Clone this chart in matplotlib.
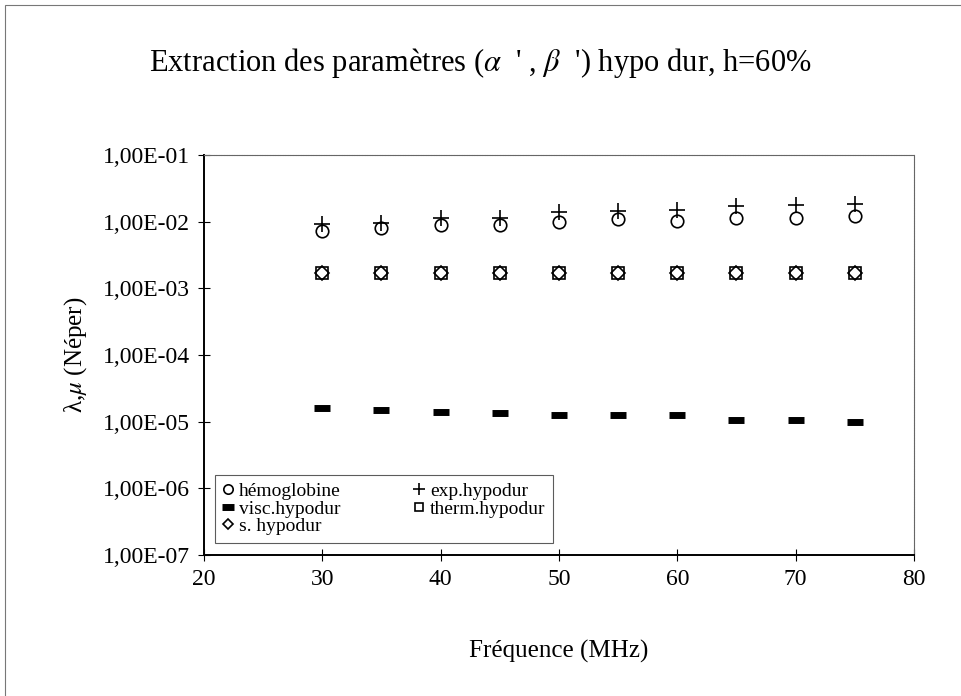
import matplotlib
matplotlib.use('Agg')
import matplotlib.pyplot as plt
from matplotlib.ticker import FixedLocator, FuncFormatter, NullLocator
from matplotlib.patches import Rectangle

plt.rcParams['font.family'] = ['Liberation Serif', 'DejaVu Serif']
plt.rcParams['mathtext.fontset'] = 'stix'

freq = [30, 35, 40, 45, 50, 55, 60, 65, 70, 75]
hemoglobine = [7.3e-3, 8.0e-3, 8.8e-3, 9.0e-3, 1.0e-2, 1.1e-2, 1.03e-2, 1.12e-2, 1.12e-2, 1.23e-2]
exp_hypodur = [9.2e-3, 9.5e-3, 1.12e-2, 1.12e-2, 1.38e-2, 1.46e-2, 1.51e-2, 1.70e-2, 1.79e-2, 1.84e-2]
visc_hypodur = [1.6e-5, 1.51e-5, 1.41e-5, 1.33e-5, 1.26e-5, 1.26e-5, 1.25e-5, 1.06e-5, 1.06e-5, 1.0e-5]
therm_hypodur = [1.7e-3] * 10
s_hypodur = [1.7e-3] * 10

yticks = [1e-1, 1e-2, 1e-3, 1e-4, 1e-5, 1e-6, 1e-7]
xticks = [20, 30, 40, 50, 60, 70, 80]

fig = plt.figure(figsize=(9.61, 6.96), dpi=100)
ax = fig.add_axes([0.2123, 0.2026, 0.951 - 0.2123, 0.7773 - 0.2026])

# outer frame of the chart area
fig.patches.append(Rectangle((0.005, -0.01), 1.2, 1.003, transform=fig.transFigure,
                             fill=False, edgecolor='#777777', linewidth=0.8))

ax.plot(freq, hemoglobine, linestyle='none', marker='o', markersize=9,
        markerfacecolor='none', markeredgecolor='black', markeredgewidth=1.2, label='hémoglobine')
ax.plot(freq, visc_hypodur, linestyle='none', marker='_', markersize=12,
        markeredgecolor='black', markeredgewidth=5, label='visc.hypodur')
ax.plot(freq, s_hypodur, linestyle='none', marker='D', markersize=7,
        markerfacecolor='none', markeredgecolor='black', markeredgewidth=1.2, label='s. hypodur')
ax.plot(freq, exp_hypodur, linestyle='none', marker='+', markersize=11,
        markeredgecolor='black', markeredgewidth=1.2, label='exp.hypodur')
ax.plot(freq, therm_hypodur, linestyle='none', marker='s', markersize=8,
        markerfacecolor='none', markeredgecolor='black', markeredgewidth=1.2, label='therm.hypodur')

ax.set_yscale('log')
ax.set_ylim(1e-7, 1e-1)
ax.set_xlim(20, 80)
ax.yaxis.set_major_locator(FixedLocator(yticks))
ax.yaxis.set_minor_locator(NullLocator())
ax.xaxis.set_major_locator(FixedLocator(xticks))
ax.yaxis.set_major_formatter(FuncFormatter(lambda v, p: ('%.2E' % v).replace('.', ',')))

ax.tick_params(axis='both', direction='inout', length=8, width=0.8, labelsize=17, pad=6)
for side in ['left', 'bottom']:
    ax.spines[side].set_linewidth(1.4)
for side in ['top', 'right']:
    ax.spines[side].set_linewidth(0.8)
    ax.spines[side].set_color('#666666')
    ax.spines[side].set_linestyle((0, (1.5, 0.8)))

ax.set_xlabel('Fréquence (MHz)', fontsize=18, labelpad=36)
ax.set_ylabel('λ,$\\mathit{\\mu}$ (Néper)', fontsize=18, labelpad=10)
fig.text(0.5, 0.91, "Extraction des paramètres ($\\alpha$  ' , $\\beta$  ') hypo dur, h=60%",
         ha='center', va='center', fontsize=22)

leg = ax.legend(ncol=2, loc='lower left', bbox_to_anchor=(0.016, 0.03), fontsize=14,
                frameon=True, fancybox=False, edgecolor='#333333', handlelength=0.5,
                handletextpad=0.3, columnspacing=3.8, labelspacing=0.0, borderpad=0.4,
                markerscale=0.75, borderaxespad=0)
leg.get_frame().set_linewidth(0.8)

fig.savefig('out.png', dpi=100)
